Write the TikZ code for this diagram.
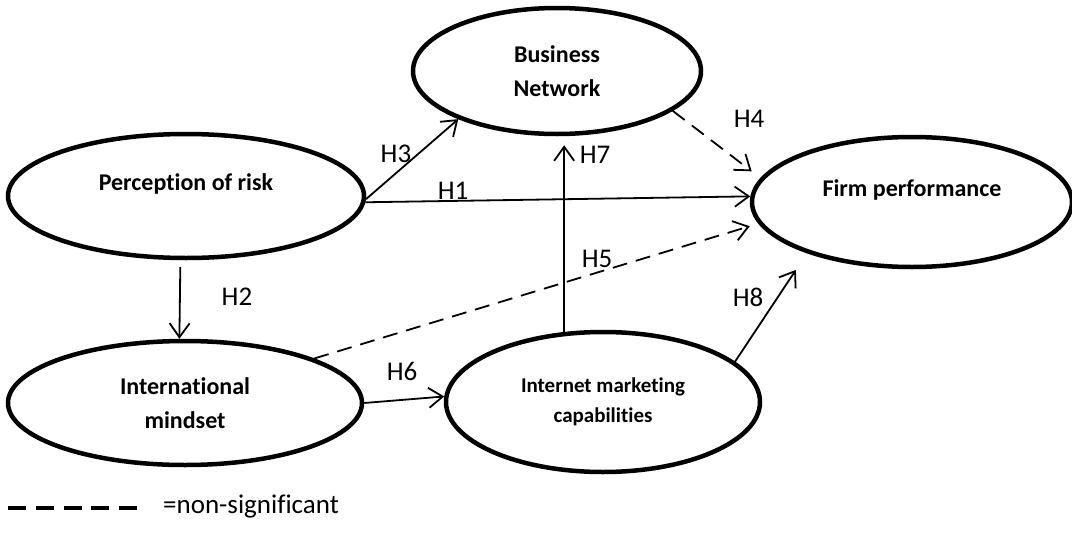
\documentclass[tikz,border=0pt]{standalone}
\usepackage{fontspec}
\setmainfont{Carlito}[Ligatures=NoCommon]
\usetikzlibrary{shapes.geometric,arrows.meta}

\begin{document}
\begin{tikzpicture}[x=1pt,y=-1pt,
	construct/.style={draw, ellipse, line width=4.5pt, align=center, inner sep=0pt,
		font=\fontsize{24}{34}\selectfont\bfseries},
	hyp/.style={->, line width=1.8pt},
	nonsig/.style={hyp, dash pattern=on 15pt off 9pt},
	hlabel/.style={inner sep=0pt, font=\fontsize{27}{32}\selectfont},
	>={Straight Barb[length=14pt,width=20pt]}]
	\useasboundingbox (0,0) rectangle (1072,533);
	\node[construct, minimum width=288pt, minimum height=126pt] (bn) at (557,71) {Business\\Network};
	\node[construct, minimum width=356pt, minimum height=124pt, text depth=28pt] (pr) at (186,196) {Perception of risk};
	\node[construct, minimum width=320pt, minimum height=130pt, text depth=28pt] (fp) at (912,202) {Firm performance};
	\node[construct, minimum width=354pt, minimum height=124pt] (im) at (185,403) {International\\mindset};
	\node[construct, minimum width=314pt, minimum height=140pt,
		font=\fontsize{21}{30}\selectfont\bfseries] (imc) at (603,402) {Internet marketing\\capabilities};
	\draw[hyp] (pr.-2) -- (fp.178);
	\draw[hyp] (pr.-1) -- (bn.206);
	\draw[hyp, shorten <=7pt] (pr.265) -- (im.95);
	\draw[nonsig, shorten >=11pt] (bn.-19) -- (fp.171);
	\draw[nonsig, shorten >=9pt] (im.19) -- (fp.188);
	\draw[hyp] (im.east) -- (imc.178);
	\draw[hyp, shorten >=9pt] (imc.119) -- (imc.119 |- bn.south);
	\draw[hyp, shorten >=20pt] (imc.17) -- (fp.206);
	\node[hlabel] (h1) at (453,191) {H1};
	\node[hlabel] (h2) at (237,297) {H2};
	\node[hlabel] (h3) at (396,154) {H3};
	\node[hlabel] (h4) at (749,119) {H4};
	\node[hlabel] (h5) at (597,259) {H5};
	\node[hlabel] (h6) at (402,371) {H6};
	\node[hlabel] (h7) at (595,155) {H7};
	\node[hlabel] (h8) at (748,297) {H8};
	\coordinate (legA) at (8,508);
	\coordinate (legB) at (137,508);
	\draw[line width=4pt, dash pattern=on 18pt off 9.75pt] (legA) -- (legB);
	\node[hlabel, anchor = base west] (legtext) at (163,513) {=non-significant};
\end{tikzpicture}
\end{document}
